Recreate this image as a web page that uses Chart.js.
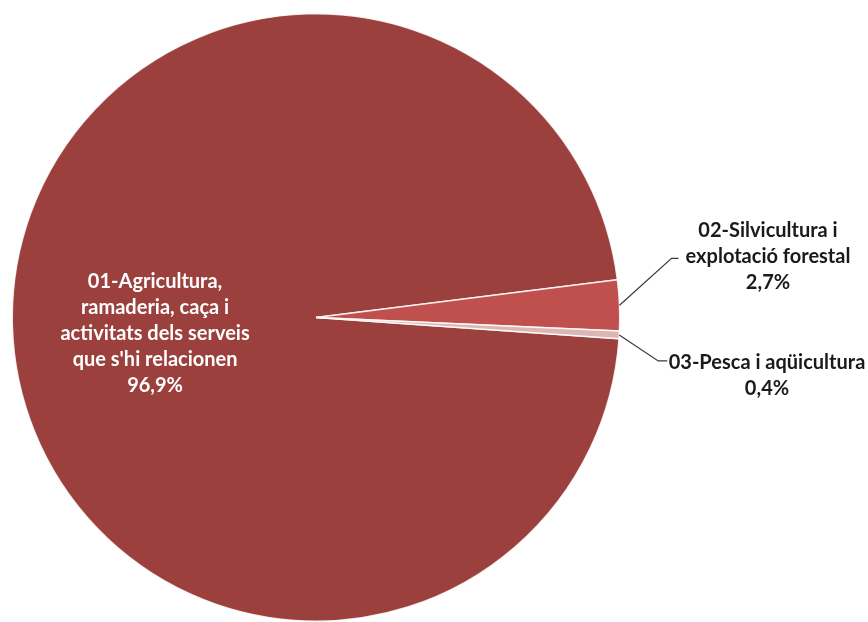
<!DOCTYPE html>
<html>
<head>
<meta charset="utf-8">
<script src="https://cdn.jsdelivr.net/npm/chart.js@4"></script>
<style>
html,body{margin:0;padding:0;background:#fff;}
#wrap{width:868px;height:622px;position:relative;}
</style>
</head>
<body>
<div id="wrap"><canvas id="c" width="868" height="622"></canvas></div>
<script>
const categories = [
  ["01-Agricultura,", "ramaderia, caça i", "activitats dels serveis", "que s'hi relacionen"],
  ["02-Silvicultura i", "explotació forestal"],
  ["03-Pesca i aqüicultura"]
];
const values = [96.9, 2.7, 0.4];
const valueLabels = ["96,9%", "2,7%", "0,4%"];
const colors = ["#9B403D", "#C0504D", "#DAB6B5"];

const FONT = "bold 20px Lato";
const LH = 26;

const labelPlugin = {
  id: 'labels',
  afterDraw(chart) {
    const ctx = chart.ctx;
    const meta = chart.getDatasetMeta(0);
    ctx.save();
    ctx.font = FONT;
    ctx.textAlign = 'center';
    ctx.textBaseline = 'middle';
    meta.data.forEach((arc, i) => {
      const p = arc.getProps(['x','y','startAngle','endAngle','outerRadius'], true);
      const mid = (p.startAngle + p.endAngle) / 2;
      const lines = categories[i].concat([valueLabels[i]]);
      if (i === 0) {
        const r = p.outerRadius * 0.53;
        const ax = p.x + Math.cos(mid) * r;
        const ay = p.y + Math.sin(mid) * r + 12;
        ctx.fillStyle = '#ffffff';
        const top = ay - (lines.length - 1) * LH / 2;
        lines.forEach((t, k) => ctx.fillText(t, ax, top + k * LH));
      } else {
        const ex = p.x + Math.cos(mid) * p.outerRadius;
        const ey = p.y + Math.sin(mid) * p.outerRadius;
        let bx, by, hx, cx, cy;
        if (i === 1) {
          bx = ex + 52; by = ey - 47; hx = bx + 7;
          cx = 768; cy = by - 2;
        } else {
          bx = ex + 39; by = ey + 26; hx = bx + 9;
          cx = 767; cy = by + 2;
        }
        ctx.strokeStyle = '#3a3a3a';
        ctx.lineWidth = 1.2;
        ctx.beginPath();
        ctx.moveTo(ex, ey);
        ctx.lineTo(bx, by);
        ctx.lineTo(hx, by);
        ctx.stroke();
        ctx.fillStyle = '#1a1a1a';
        const attach = (i === 1) ? 1 : 0;
        const top = cy - attach * LH;
        lines.forEach((t, k) => ctx.fillText(t, cx, top + k * LH));
      }
    });
    ctx.restore();
  }
};

new Chart(document.getElementById('c'), {
  type: 'pie',
  data: {
    labels: categories.map(c => c.join(' ')),
    datasets: [{
      data: values,
      backgroundColor: colors,
      borderColor: 'rgba(255,255,255,0.85)',
      borderWidth: 1.5,
      hoverOffset: 0
    }]
  },
  options: {
    responsive: false,
    animation: false,
    rotation: 94,
    layout: { padding: { left: 11, right: 247, top: 13, bottom: 0 } },
    plugins: { legend: { display: false }, tooltip: { enabled: false } }
  },
  plugins: [labelPlugin]
});
</script>
</body>
</html>
